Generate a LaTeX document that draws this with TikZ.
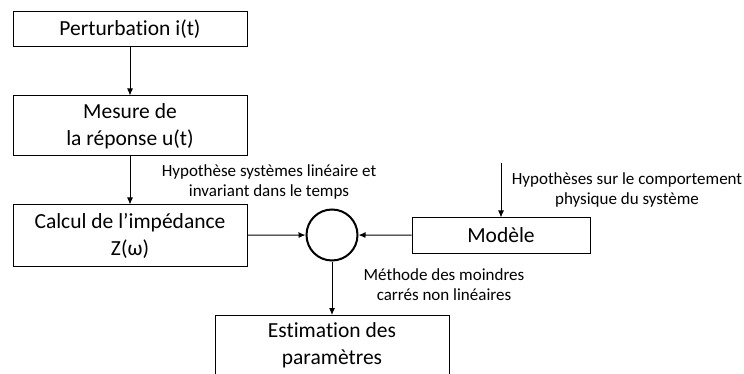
\documentclass[tikz,border=0pt]{standalone}
\usepackage{fontspec}
\setmainfont{Carlito}[Ligatures=NoCommon]
\usetikzlibrary{arrows.meta,positioning}

\begin{document}
\begin{tikzpicture}[x=1pt,y=-1pt,
  box/.style={draw,line width=1pt,minimum width=234pt,minimum height=35pt,align=center,inner sep=2pt,
    font=\fontsize{21.5}{27}\selectfont},
  note/.style={align=center,font=\fontsize{17}{20}\selectfont},
  edge/.style={-{Latex[length=7pt,width=6pt]},line width=1pt}]
  \useasboundingbox (0,0) rectangle (744,374);
  \clip (0,0) rectangle (744,374);
  % chain on the left
  \node[box] (pert) at (130,29.5) {Perturbation i(t)};
  \node[box,minimum height=60pt] (mes) at (130,126) {Mesure de\\la réponse u(t)};
  \node[box,minimum height=61pt] (calc) at (130,235.5) {Calcul de l’impédance\\Z(ω)};
  \draw[edge] (pert) -- (mes);
  \draw[edge] (mes) -- (calc);
  % comparison
  \node[draw,circle,line width=2pt,minimum size=51pt,inner sep=0pt] (cmp) at (332,235) {};
  \node[box,minimum width=178pt] (mod) at (501,235.5) {Modèle};
  \coordinate (hyp) at (501,163);
  \draw[edge] (calc) -- (cmp);
  \draw[edge] (mod) -- (cmp);
  \draw[edge] (hyp) -- (mod);
  % result
  \node[box,minimum height=60pt,anchor=north] (est) at (332,315) {Estimation des\\paramètres};
  \draw[edge] (cmp) -- (est);
  % notes
  \node[note] (lin) at (269,182) {Hypothèse systèmes linéaire et\\invariant dans le temps};
  \node[note] (phy) at (627,190) {Hypothèses sur le comportement\\physique du système};
  \node[note] (mco) at (444,285) {Méthode des moindres\\carrés non linéaires};
\end{tikzpicture}
\end{document}
